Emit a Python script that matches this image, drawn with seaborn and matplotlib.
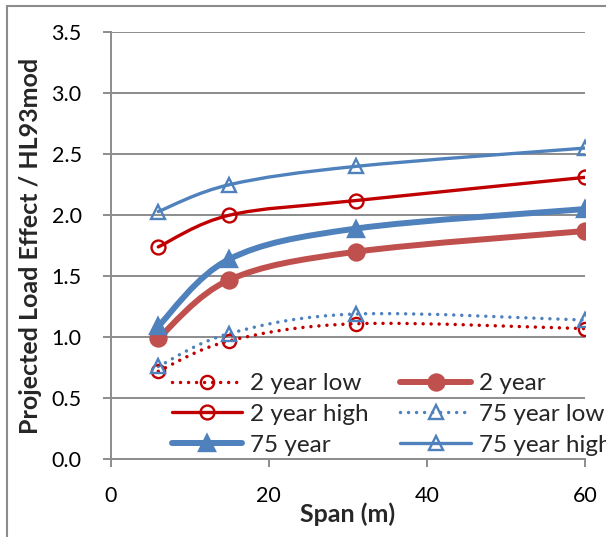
import numpy as np
import pandas as pd
import seaborn as sns
import matplotlib
matplotlib.use("Agg")
import matplotlib.pyplot as plt
from matplotlib.path import Path
from matplotlib.patches import PathPatch
from matplotlib.lines import Line2D

# Span lengths (m)
span = [6, 15, 31, 60]

# Projected load effect ratios
two_year_low = [0.72, 0.97, 1.11, 1.07]
two_year = [0.99, 1.47, 1.70, 1.87]
two_year_high = [1.74, 2.00, 2.12, 2.31]
seventy_five_low = [0.76, 1.03, 1.19, 1.14]
seventy_five = [1.09, 1.64, 1.89, 2.05]
seventy_five_high = [2.03, 2.25, 2.40, 2.55]

x_ticks = [0, 20, 40, 60]
y_ticks = [0.0, 0.5, 1.0, 1.5, 2.0, 2.5, 3.0, 3.5]

sns.set_theme(style="white")
plt.rcParams["font.family"] = ["Lato", "DejaVu Sans"]

RED_DARK = "#C00000"
RED = "#C0504D"
BLUE = "#4F81BD"

series = {
    # label: (values, colour, linewidth, linestyle, marker, filled, markersize)
    "2 year low": (two_year_low, RED_DARK, 2.5, "dot", "o", False, 9.5),
    "2 year": (two_year, RED, 4.3, "solid", "o", True, 11.5),
    "2 year high": (two_year_high, RED_DARK, 2.4, "solid", "o", False, 10),
    "75 year low": (seventy_five_low, BLUE, 2.5, "dot", "^", False, 9.5),
    "75 year": (seventy_five, BLUE, 4.3, "solid", "^", True, 12),
    "75 year high": (seventy_five_high, BLUE, 2.4, "solid", "^", False, 10),
}

DOTS = (0, (0.01, 2.3))

fig = plt.figure(figsize=(6.06, 5.37), dpi=100)
ax = fig.add_axes([0.183, 0.145, 0.782, 0.795])


def smooth_path(xs, ys):
    """Cubic Bezier path through the points (Catmull-Rom style smoothing)."""
    pts = np.column_stack([xs, ys]).astype(float)
    n = len(pts)
    verts = [pts[0]]
    codes = [Path.MOVETO]
    for i in range(n - 1):
        p0 = pts[i - 1] if i > 0 else pts[i]
        p1 = pts[i]
        p2 = pts[i + 1]
        p3 = pts[i + 2] if i + 2 < n else pts[i + 1]
        c1 = p1 + (p2 - p0) / 6.0
        c2 = p2 - (p3 - p1) / 6.0
        verts += [c1, c2, p2]
        codes += [Path.CURVE4] * 3
    return Path(verts, codes)


handles = {}
for label, (vals, color, lw, style, marker, filled, ms) in series.items():
    ls = DOTS if style == "dot" else "-"
    patch = PathPatch(smooth_path(span, vals), facecolor="none", edgecolor=color,
                      lw=lw, linestyle=ls, capstyle="round", joinstyle="round",
                      zorder=3)
    ax.add_patch(patch)
    df = pd.DataFrame({"span": span, "value": vals})
    sns.lineplot(data=df, x="span", y="value", ax=ax, linestyle="none",
                 marker=marker, markersize=ms,
                 markerfacecolor=color if filled else "none",
                 markeredgecolor=color, markeredgewidth=1.7, zorder=4)
    handles[label] = Line2D([0], [0], color=color, lw=lw, linestyle=ls,
                            dash_capstyle="round", solid_capstyle="round",
                            marker=marker, markersize=ms,
                            markerfacecolor=color if filled else "none",
                            markeredgecolor=color, markeredgewidth=1.7,
                            label=label)

ax.set_xlim(0, 60)
ax.set_ylim(0, 3.5)
ax.set_xticks(x_ticks)
ax.set_yticks(y_ticks)
ax.set_xticklabels([str(t) for t in x_ticks], fontsize=15.5)
ax.set_yticklabels([f"{t:.1f}" for t in y_ticks], fontsize=15.5)
ax.set_xlabel("Span (m)", fontsize=18, fontweight="bold", labelpad=-2)
ax.set_ylabel("Projected Load Effect / HL93mod", fontsize=18,
              fontweight="bold", labelpad=7)

GRID = "#8c8c8c"
ax.yaxis.grid(True, color=GRID, lw=1.4)
ax.xaxis.grid(False)
for side in ["top", "right"]:
    ax.spines[side].set_visible(False)
for side in ["left", "bottom"]:
    ax.spines[side].set_color(GRID)
    ax.spines[side].set_linewidth(1.4)
ax.tick_params(axis="both", which="major", direction="out", length=6,
               width=1.4, color=GRID, labelcolor="black", left=True,
               bottom=True)
ax.tick_params(axis="y", pad=15)
ax.tick_params(axis="x", pad=13)
ax.set_axisbelow(True)

# Two-column legend, filled row by row
order = ["2 year low", "2 year high", "75 year",
         "2 year", "75 year low", "75 year high"]
leg = ax.legend(handles=[handles[k] for k in order], ncol=2, frameon=False,
                fontsize=17.5, loc="lower left", bbox_to_anchor=(0.128, 0.008),
                handlelength=2.9, columnspacing=1.3, handletextpad=0.33,
                labelspacing=0.40, borderaxespad=0, borderpad=0)

# Frame around the figure
fig.add_artist(Line2D([0.012, 1.0], [0.989, 0.989], transform=fig.transFigure,
                      color="#8c8c8c", lw=1.5))
fig.add_artist(Line2D([0.012, 0.012], [0.0, 0.989], transform=fig.transFigure,
                      color="#8c8c8c", lw=1.5))

fig.savefig("out.png", dpi=100, facecolor="white")
